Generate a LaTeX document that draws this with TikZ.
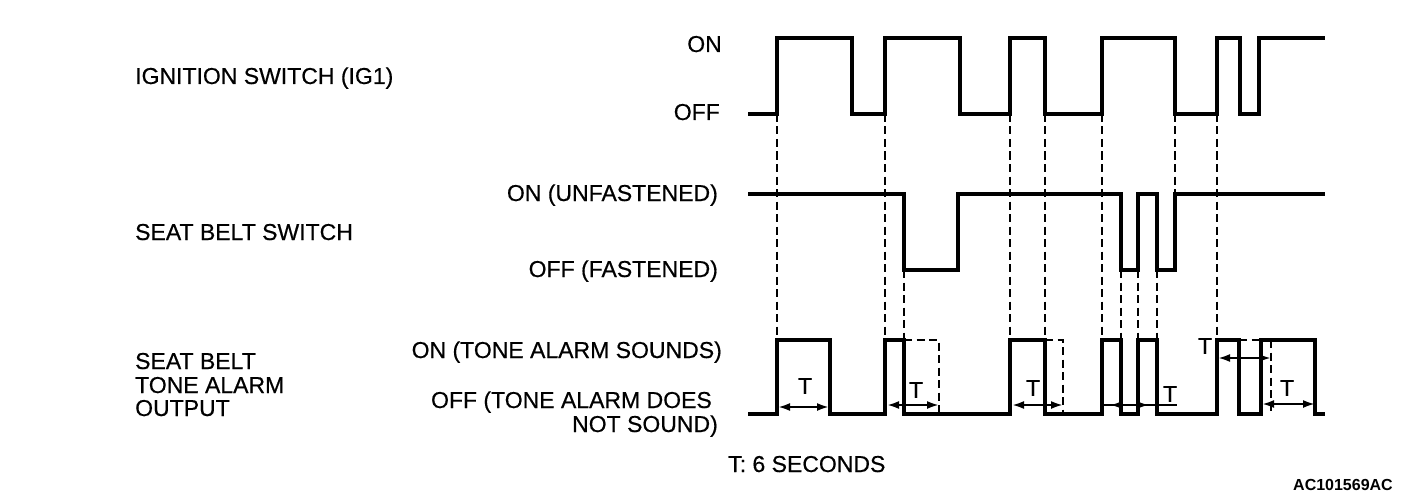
\documentclass[tikz,border=0pt]{standalone}
\usepackage{fontspec}
\setmainfont{Liberation Sans}
\newfontfamily\heavyfont[FakeBold=0.5]{Liberation Sans}
\usetikzlibrary{arrows.meta}
\begin{document}
\begin{tikzpicture}[x=1pt,y=-1pt,
  wave/.style={line width=3.6pt, line join=miter, line cap=butt},
  guide/.style={line width=2.6pt, dash pattern=on 8pt off 4.5pt},
  dimline/.style={line width=2.2pt, {Latex[length=12pt,width=8pt]}-{Latex[length=12pt,width=8pt]}},
  tip/.style={line width=2.2pt, -{Latex[length=12pt,width=8pt]}},
  lbl/.style={font=\heavyfont\fontsize{23}{23.5}\selectfont, inner sep=0pt},
  tlbl/.style={font=\heavyfont\fontsize{23}{23}\selectfont, inner sep=0pt},
]
\useasboundingbox (0,0) rectangle (1408,500);

% ---- left labels
\node[lbl, anchor=base west] (ig) at (135,84) {IGNITION SWITCH (IG1)};
\node[lbl, anchor=base west] (sb) at (135,240) {SEAT BELT SWITCH};
\node[lbl, anchor=base west] (ta1) at (135,369) {SEAT BELT};
\node[lbl, anchor=base west] (ta2) at (135,393) {TONE ALARM};
\node[lbl, anchor=base west] (ta3) at (135,416) {OUTPUT};

% ---- level labels
\node[lbl, anchor=base east] (igon) at (722,52) {ON};
\node[lbl, anchor=base east] (igoff) at (720,120) {OFF};
\node[lbl, anchor=base east] (sbon) at (718,201) {ON (UNFASTENED)};
\node[lbl, anchor=base east] (sboff) at (718,277) {OFF (FASTENED)};
\node[lbl, anchor=base east] (taon) at (722,358) {ON (TONE ALARM SOUNDS)};
\node[lbl, anchor=base east] (taoff1) at (712,408) {OFF (TONE ALARM DOES};
\node[lbl, anchor=base east] (taoff2) at (718,432) {NOT SOUND)};

% ---- notes
\node[lbl, anchor=base west] (note) at (728,472) {T: 6 SECONDS};
\node[font=\bfseries\fontsize{16}{16}\selectfont, inner sep=0pt, anchor=base east] (code) at (1393,490) {AC101569AC};

% ---- guide (dashed) lines
\draw[guide] (777,114) -- (777,340);
\draw[guide] (885,114) -- (885,340);
\draw[guide] (904,270) -- (904,340);
\draw[guide] (1010,114) -- (1010,340);
\draw[guide] (1045,114) -- (1045,340);
\draw[guide] (1102,114) -- (1102,340);
\draw[guide] (1121,270) -- (1121,340);
\draw[guide] (1138,270) -- (1138,340);
\draw[guide] (1157,270) -- (1157,340);
\draw[guide] (1175,114) -- (1175,194);
\draw[guide] (1217,114) -- (1217,340);

% ---- dashed continuations of the alarm output
\draw[guide] (904,340) -| (939,414);
\draw[guide] (1045,340) -| (1063,414);
\draw[guide] (1239,340) -- (1261,340);
\draw[guide] (1271,340) -- (1271,414);

% ---- waveforms
\draw[wave] (748,114) -| (777,38) -| (852,114) -| (885,38) -| (960,114) -| (1010,38) -| (1045,114) -| (1102,38) -| (1175,114) -| (1217,38) -| (1240,114) -| (1259,38) -- (1325,38);
\draw[wave] (748,194) -| (904,270) -| (958,194) -| (1121,270) -| (1138,194) -| (1157,270) -| (1175,194) -- (1325,194);
\draw[wave] (748,414) -| (777,340) -| (830,414) -| (885,340) -| (904,414) -| (1010,340) -| (1045,414) -| (1102,340) -| (1121,414) -| (1138,340) -| (1157,414) -| (1217,340) -| (1239,414) -| (1261,340) -| (1315,414) -- (1325,414);

% ---- T dimensions
\draw[dimline] (778,407) -- (829,407);
\node[tlbl] (t1) at (805,386) {T};
\draw[dimline] (887,405) -- (939,405);
\node[tlbl] (t2) at (916,390) {T};
\draw[dimline] (1012,405) -- (1063,405);
\node[tlbl] (t3) at (1033,388) {T};
\draw[line width=2.2pt] (1103,405) -- (1177,405);
\draw[tip] (1123,405) -- (1110,405);
\draw[tip] (1136,405) -- (1149,405);
\node[tlbl] (t4) at (1170,394) {T};
\draw[dimline] (1218,358) -- (1271,358);
\node[tlbl] (t5) at (1205,346) {T};
\draw[dimline] (1262,404) -- (1315,404);
\node[tlbl] (t6) at (1287,388) {T};
\end{tikzpicture}
\end{document}
